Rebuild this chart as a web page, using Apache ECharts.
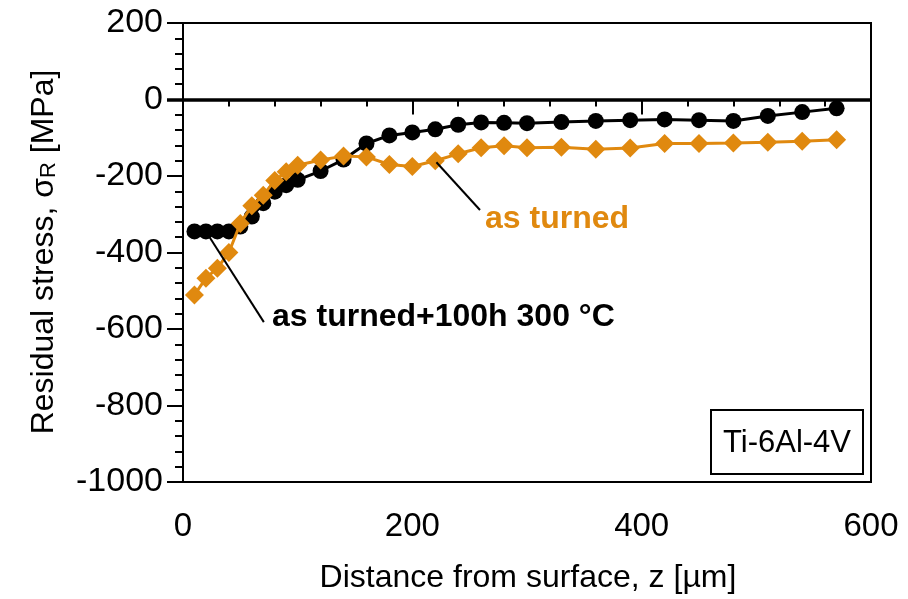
<!DOCTYPE html>
<html>
<head>
<meta charset="utf-8">
<script src="https://cdn.jsdelivr.net/npm/echarts@6/dist/echarts.min.js"></script>
<style>
  html, body { margin: 0; padding: 0; background: #fff; }
  #chart { width: 908px; height: 599px; }
</style>
</head>
<body>
<div id="chart"></div>
<script>
// Depth below the surface (µm) for each measurement
const depth = [10, 20, 30, 40, 50, 60, 70, 80, 90, 100, 120, 140, 160, 180, 200, 220, 240, 260, 280, 300, 330, 360, 390, 420, 450, 480, 510, 540, 570];
// Residual stress (MPa), turned + annealed 100 h at 300 °C
const stressAged = [-345, -345, -345, -345, -332, -306, -271, -241, -224, -210, -187, -157, -115, -94, -86, -78, -66, -60, -61, -62, -59, -56, -54, -52, -54, -56, -43, -33, -23];
// Residual stress (MPa), as turned
const stressTurned = [-511, -467, -441, -400, -324, -278, -250, -212, -189, -172, -158, -148, -150, -170, -175, -160, -142, -126, -121, -126, -125, -130, -127, -115, -115, -114, -112, -109, -105];

const xTicks = [0, 200, 400, 600];
const yTicks = [200, 0, -200, -400, -600, -800, -1000];

const FONT = '"Liberation Sans", Arial, Helvetica, sans-serif';
const ORANGE = '#E0890F';

const chart = echarts.init(document.getElementById('chart'), null, { renderer: 'canvas' });

const pairs = (xs, ys) => xs.map((x, i) => [x, ys[i]]);

const option = {
  backgroundColor: '#fff',
  animation: false,
  grid: {
    left: 183, right: 37, top: 23, bottom: 117,
    show: true, borderColor: '#000', borderWidth: 2, backgroundColor: 'transparent'
  },
  xAxis: {
    type: 'value', min: xTicks[0], max: xTicks[xTicks.length - 1], interval: 200,
    axisLine: { lineStyle: { color: '#000', width: 2 } },
    axisTick: { length: 15, lineStyle: { color: '#000', width: 2 } },
    minorTick: { show: true, splitNumber: 5, length: 7, lineStyle: { color: '#000', width: 2 } },
    axisLabel: { margin: 28, color: '#000', fontSize: 33, fontFamily: FONT, formatter: v => String(v) },
    splitLine: { show: false }
  },
  yAxis: {
    type: 'value', min: yTicks[yTicks.length - 1], max: yTicks[0], interval: 200,
    axisLine: { show: true, lineStyle: { color: '#000', width: 2 } },
    axisTick: { show: true, length: 16, lineStyle: { color: '#000', width: 2 } },
    minorTick: { show: true, splitNumber: 5, length: 8, lineStyle: { color: '#000', width: 2 } },
    axisLabel: { margin: 20, color: '#000', fontSize: 34, fontFamily: FONT, formatter: v => String(v) },
    splitLine: { show: false }
  },
  series: [
    {
      name: 'as turned+100h 300 °C',
      type: 'line',
      data: pairs(depth, stressAged),
      symbol: 'circle', symbolSize: 16,
      itemStyle: { color: '#000' },
      lineStyle: { color: '#000', width: 3 },
      z: 3,
      markLine: {
        silent: true, symbol: 'none', label: { show: false },
        lineStyle: { color: '#000', type: 'solid', width: 2 },
        data: [
          // zero-stress reference line
          [{ yAxis: 0, x: 167, lineStyle: { width: 3.5 } }, { yAxis: 0, x: 871 }],
          // leader to the annealed-series label
          [{ coord: [20, -345] }, { coord: [70.5, -582] }]
        ]
      }
    },
    {
      name: 'as turned',
      type: 'line',
      data: pairs(depth, stressTurned),
      symbol: 'diamond', symbolSize: 19,
      itemStyle: { color: ORANGE },
      lineStyle: { color: ORANGE, width: 3 },
      z: 4,
      markLine: {
        silent: true, symbol: 'none', label: { show: false },
        data: [
          [{ coord: [221, -164] }, { coord: [259, -289] }]
        ],
        lineStyle: { color: '#000', type: 'solid', width: 2 }
      }
    }
  ],
  graphic: [
    {
      type: 'text', x: 272, y: 317,
      style: { text: 'as turned+100h 300 °C', font: 'bold 32px ' + FONT, fill: '#000', align: 'left', verticalAlign: 'middle' }
    },
    {
      type: 'text', x: 485, y: 219,
      style: { text: 'as turned', font: 'bold 32px ' + FONT, fill: ORANGE, align: 'left', verticalAlign: 'middle' }
    },
    {
      type: 'rect', shape: { x: 711, y: 410, width: 152, height: 64 },
      style: { fill: '#fff', stroke: '#000', lineWidth: 2 }, z: 10
    },
    {
      type: 'text', x: 787, y: 443, z: 11,
      style: { text: 'Ti-6Al-4V', font: '31px ' + FONT, fill: '#000', align: 'center', verticalAlign: 'middle' }
    },
    {
      type: 'text', x: 528, y: 578,
      style: { text: 'Distance from surface, z [µm]', font: '32px ' + FONT, fill: '#000', align: 'center', verticalAlign: 'middle' }
    },
    {
      type: 'text', x: 42, y: 252, rotation: Math.PI / 2,
      style: {
        text: '{b|Residual stress, σ}{s|R}{b| [MPa]}',
        align: 'center', verticalAlign: 'middle', fill: '#000',
        rich: {
          b: { fontSize: 32, fontFamily: FONT, fill: '#000', lineHeight: 36, verticalAlign: 'bottom' },
          s: { fontSize: 22, fontFamily: FONT, fill: '#000', lineHeight: 30, verticalAlign: 'bottom' }
        }
      }
    }
  ]
};

chart.setOption(option);
</script>
</body>
</html>
